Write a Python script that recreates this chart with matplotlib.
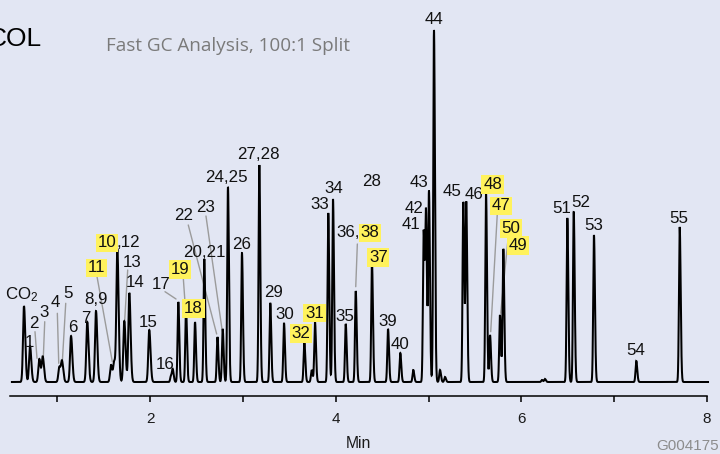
import numpy as np
import matplotlib
matplotlib.use("Agg")
import matplotlib.pyplot as plt
from matplotlib.transforms import offset_copy
from matplotlib.ticker import FixedLocator

# ---------------- data ----------------
peak_ids = ["CO2", "1", "2", "3", "4", "5", "6", "7", "8,9", "11", "11b", "10,12",
            "13", "14", "15", "16a", "16", "17", "19", "18", "20,21", "22", "23",
            "24,25", "26", "27,28", "29", "30", "32", "u1", "31", "33", "34", "35",
            "36,38", "37", "39", "40", "u2", "41", "42", "43", "44", "u3", "u4",
            "45", "46", "48", "47", "50", "49", "u5", "u6", "51", "52", "53", "54", "55"]
retention_min = [0.641, 0.706, 0.806, 0.843, 1.022, 1.051, 1.148, 1.323, 1.417, 1.579, 1.614, 1.647,
                 1.722, 1.776, 1.991, 2.225, 2.244, 2.304, 2.387, 2.484, 2.584, 2.726, 2.782,
                 2.839, 2.990, 3.177, 3.295, 3.443, 3.662, 3.741, 3.777, 3.920, 3.971, 4.108,
                 4.216, 4.391, 4.564, 4.696, 4.836, 4.948, 4.973, 5.005, 5.059, 5.124, 5.178,
                 5.375, 5.407, 5.620, 5.663, 5.770, 5.806, 6.223, 6.255, 6.496, 6.565, 6.783, 7.239, 7.707]
peak_height = [76, 36, 23, 25, 15, 20, 46, 60, 71, 17, 20, 132,
               61, 89, 52, 6, 12, 80, 74, 60, 123, 45, 53,
               195, 129, 217, 79, 59, 40, 12, 60, 169, 183, 58,
               91, 119, 53, 29, 12, 151, 165, 190, 352, 12, 5,
               180, 179, 189, 47, 67, 133, 2, 3, 164, 170, 147, 21, 155]

run_start, run_end = 0.511, 8.012
major_ticks = [2, 4, 6, 8]
minor_ticks = [1, 3, 5, 7]
x_label = "Min"
title_text = "Fast GC Analysis, 100:1 Split"
corner_text = "COL"
code_text = "G004175"

# ---------------- layout ----------------
W, H, DPI = 720, 454, 100
PX = 72.0 / DPI
BG = "#e2e6f3"
YELLOW = "#fff25c"
GREY = "#9b9b9b"
LFONT = "Liberation Sans"
LSIZE = 12.2

plt.rcParams["mathtext.fontset"] = "custom"
plt.rcParams["mathtext.rm"] = LFONT

fig = plt.figure(figsize=(W / DPI, H / DPI), dpi=DPI, facecolor=BG)
ax = fig.add_axes([0, 0, 1, 1], facecolor=BG)
ax.set_xlim(2 - 150.1 / 92.8, 2 + 569.9 / 92.8)
ax.set_ylim(-72, 382)

rt = np.array(retention_min)
ht = np.array(peak_height, dtype=float)
t = np.linspace(run_start, run_end, 24000)
sig = np.where(rt < 2.2, 0.0105, 0.0080)
sig_r = sig * 1.3
y = np.zeros_like(t)
for c, h, sl, sr in zip(rt, ht, sig, sig_r):
    s = np.where(t < c, sl, sr)
    y += h * np.exp(-0.5 * ((t - c) / s) ** 2)
ax.plot(t, y, color="black", lw=1.45, zorder=3, solid_joinstyle="miter")

# x axis
for s in ["top", "right", "left"]:
    ax.spines[s].set_visible(False)
ax.spines["bottom"].set_position(("data", -13.5))
ax.spines["bottom"].set_bounds(2 - 140.1 / 92.8, 8.0)
ax.spines["bottom"].set_linewidth(1.1)
ax.xaxis.set_major_locator(FixedLocator(major_ticks))
ax.xaxis.set_minor_locator(FixedLocator(minor_ticks))
ax.tick_params(axis="x", which="both", direction="out", length=4.2, width=1.1,
               pad=8, labelsize=11, labelcolor="#1a1a1a")
for lab in ax.get_xticklabels():
    lab.set_family(LFONT)
ax.set_yticks([])


def label(text, pid, dx, dy, ha="center", hl=False):
    i = peak_ids.index(pid)
    kw = {}
    if hl:
        kw["bbox"] = dict(boxstyle="square,pad=0.1", fc=YELLOW, ec="none")
    ax.annotate(text, xy=(rt[i], ht[i]), xytext=(dx * PX, dy * PX),
                textcoords="offset points", ha=ha, va="baseline",
                fontsize=LSIZE, family=LFONT, color="#111111", zorder=4,
                annotation_clip=False, **kw)


def leader(pid, sx, sy, ex=0.0, ey=0.0):
    i = peak_ids.index(pid)
    tr = offset_copy(ax.transData, fig=fig, x=ex * PX, y=ey * PX, units="points")
    ax.annotate("", xy=(rt[i], ht[i]), xycoords=tr,
                xytext=((sx - ex) * PX, (sy - ey) * PX), textcoords="offset points",
                arrowprops=dict(arrowstyle="-", color=GREY, lw=1.0,
                                shrinkA=0, shrinkB=0), zorder=2)


# (text, peak, dx, dy, ha, highlight)
labels = [
    (r"$\mathrm{CO_2}$", "CO2", -19, 7, "left", False),
    ("1", "1", -0.5, -1, "center", False),
    ("2", "2", -5.5, 30.7, "center", False),
    ("3", "3", 1.8, 40.3, "center", False),
    ("4", "4", -4.3, 60.3, "center", False),
    ("5", "5", 5.5, 63.7, "center", False),
    ("6", "6", 1.5, 4.3, "center", False),
    ("7", "7", -1.8, -1.3, "center", False),
    ("8,9", "8,9", -0.5, 7, "center", False),
    ("11", "11", -14.8, 92.5, "center", True),
    ("10", "10,12", -0.6, 2.7, "right", True),
    (",12", "10,12", -0.6, 2.7, "left", False),
    ("13", "13", 7.7, 53.7, "center", False),
    ("14", "14", 5.7, 5.7, "center", False),
    ("15", "15", -0.6, 3.3, "center", False),
    ("16", "16", -8, 0.7, "center", False),
    ("17", "17", -17, 12.7, "center", False),
    ("19", "19", -5.7, 34, "center", True),
    ("18", "18", -1.5, 9, "center", True),
    ("20,21", "20,21", -0.3, 1.7, "center", False),
    ("22", "22", -34.2, 117, "center", False),
    ("23", "23", -17.5, 117.3, "center", False),
    ("24,25", "24,25", -1.8, 5.3, "center", False),
    ("26", "26", -0.8, 3.7, "center", False),
    ("27,28", "27,28", -0.5, 5.7, "center", False),
    ("29", "29", 3, 6.3, "center", False),
    ("30", "30", 1, 4, "center", False),
    ("32", "32", -3, 4, "center", True),
    ("31", "31", -0.5, 4.5, "center", True),
    ("33", "33", -8.5, 3.7, "center", False),
    ("34", "34", 0.7, 5.7, "center", False),
    ("35", "35", -0.7, 3.3, "center", False),
    ("36,", "36,38", 4.3, 53.7, "right", False),
    ("38", "36,38", 4.8, 53.7, "left", True),
    ("37", "37", 6.3, 1, "center", True),
    ("28", "37", -0.3, 77.3, "center", False),
    ("39", "39", -0.2, 3, "center", False),
    ("40", "40", 0, 3.7, "center", False),
    ("41", "41", -12.5, 1.7, "center", False),
    ("42", "42", -11.5, 3.7, "center", False),
    ("43", "43", -9.8, 4.7, "center", False),
    ("44", "44", 0.5, 6, "center", False),
    ("45", "45", -10.8, 6.3, "center", False),
    ("46", "46", 7.5, 3.7, "center", False),
    ("48", "48", 6.5, 4, "center", True),
    ("47", "47", 10.8, 124.5, "center", True),
    ("50", "50", 10.8, 82, "center", True),
    ("49", "49", 14.9, -1, "center", True),
    ("51", "51", -6, 4.7, "center", False),
    ("52", "52", 6.6, 4.7, "center", False),
    ("53", "53", -0.2, 5, "center", False),
    ("54", "54", -0.5, 6, "center", False),
    ("55", "55", -1.2, 3.7, "center", False),
]
for text, pid, dx, dy, ha, hl in labels:
    label(text, pid, dx, dy, ha, hl)

# leader lines: (peak, start dx, start dy, end dx, end dy)
leaders = [
    ("2", -4.3, 27.3, -2.3, 0.7),
    ("3", 2.0, 35.3, 0.6, 0.3),
    ("4", -2.0, 53.7, -0.6, 3.7),
    ("5", 3.7, 58.7, 0.3, 0.3),
    ("11", -14.3, 90, 1.3, 3.3),
    ("13", 3.4, 51, 0.4, 1),
    ("17", -13.3, 10.3, -2.3, 3),
    ("19", -2.7, 29.7, -0.7, 1.3),
    ("22", -29.2, 112, -0.8, 3),
    ("23", -16.7, 113, -0.7, 0),
    ("36,38", 1.6, 47, 0, 4.3),
    ("47", 7.3, 121.7, 0.7, 3.3),
    ("50", 8.3, 78.3, 0.7, 1.7),
]
for pid, sx, sy, ex, ey in leaders:
    leader(pid, sx, sy, ex, ey)

# texts outside the trace
fig.text(42 / W, (H - 45.7) / H, corner_text, ha="right", va="baseline",
         fontsize=19, family=LFONT, color="black")
fig.text(106 / W, (H - 51) / H, title_text, ha="left", va="baseline",
         fontsize=13.6, family="Open Sans", color="#7a7a7a")
fig.text(358 / W, (H - 448) / H, x_label, ha="center", va="baseline",
         fontsize=11.3, family=LFONT, color="#1a1a1a")
fig.text(718.6 / W, (H - 450.5) / H, code_text, ha="right", va="baseline",
         fontsize=11, family=LFONT, color="#8c8c8c")

fig.savefig("out.png", dpi=DPI, facecolor=BG)
